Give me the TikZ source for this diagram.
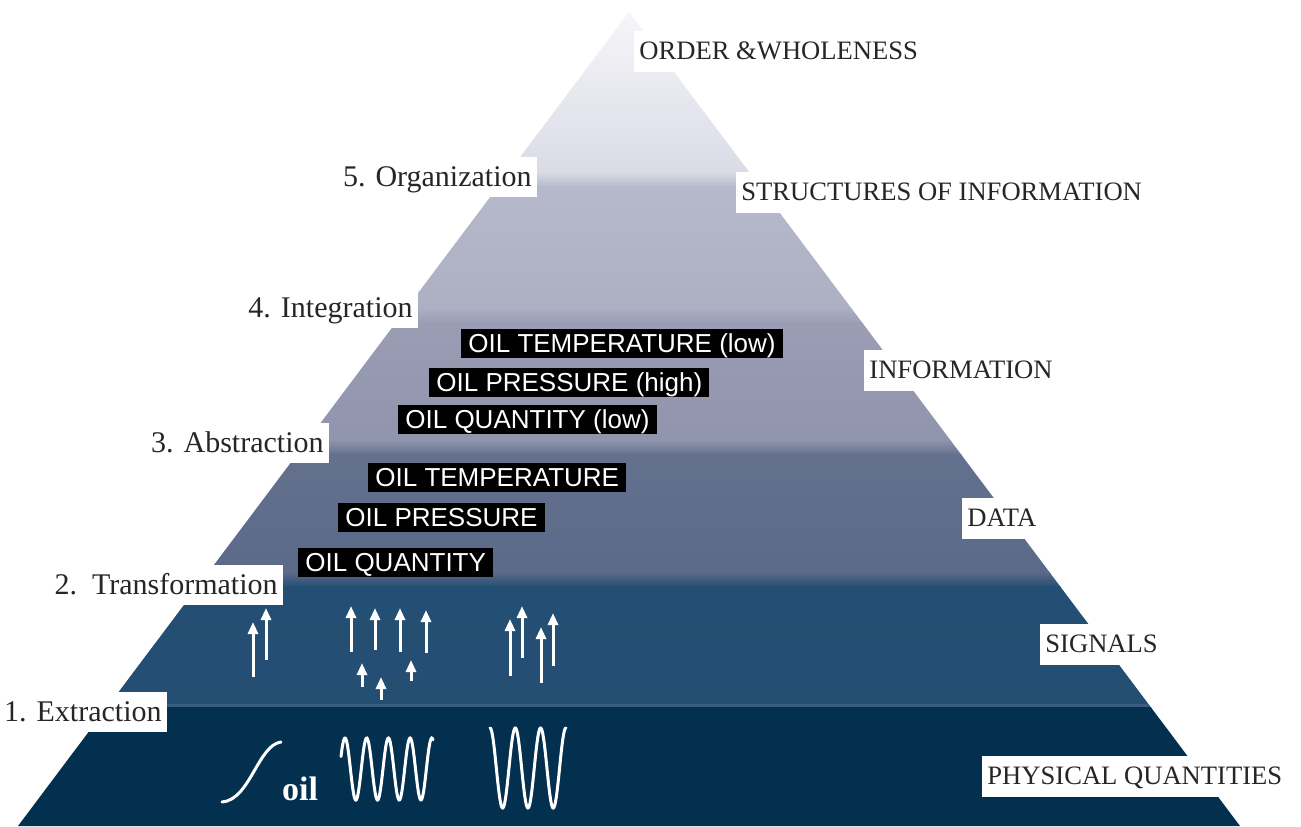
\documentclass[tikz,border=0pt]{standalone}
\usepackage{fontspec}
\setmainfont{Liberation Serif}
\setsansfont{Liberation Sans}
\usetikzlibrary{arrows.meta,positioning}

\definecolor{pyrA}{HTML}{F8F8FA}
\definecolor{pyrB}{HTML}{DADBE6}
\definecolor{pyrC}{HTML}{B6B9CB}
\definecolor{pyrD}{HTML}{ADB0C3}
\definecolor{pyrE}{HTML}{9A9DB4}
\definecolor{pyrF}{HTML}{9094AC}
\definecolor{pyrG}{HTML}{63718F}
\definecolor{pyrH}{HTML}{5C6A89}
\definecolor{pyrI}{HTML}{244F74}
\definecolor{pyrJ}{HTML}{244E72}
\definecolor{pyrL}{HTML}{3B5C81}
\definecolor{pyrK}{HTML}{03304F}

\begin{document}
\begin{tikzpicture}[x=0.5pt, y=-0.5pt,
    stage/.style = {fill=white, inner xsep=2.5pt, inner ysep=0pt,
                    minimum height=20pt, text height=9.9pt, text depth=0pt,
                    text=black!85, font=\fontsize{15}{15}\selectfont},
    layer/.style = {fill=white, inner xsep=2.5pt, inner ysep=0pt,
                    minimum height=20.5pt, text height=8.8pt, text depth=0pt,
                    text=black!85, font=\fontsize{13.3}{13.3}\selectfont},
    datum/.style = {fill=black, text=white, inner xsep=3.5pt, inner ysep=0pt,
                    minimum height=14.5pt, text height=9.3pt, text depth=0pt,
                    font=\sffamily\fontsize{13}{13}\selectfont},
    sig/.style = {white, line width=1.5pt, -{Triangle[length=6pt,width=5pt]}},
    wave/.style = {white, line width=1.5pt, line cap=round}
    ]
\useasboundingbox (0,0) rectangle (1301,826);
\coordinate (apex) at (629,12);
\coordinate (baseL) at (18,826);
\coordinate (baseR) at (1240,826);

% pyramid bands
\begin{scope}
\clip (apex) -- (baseL) -- (baseR) -- cycle;
\foreach \ya/\yb/\ca/\cb in {0/173/pyrA/pyrB, 172/187/pyrB/pyrC, 186/309/pyrC/pyrD,
        308/323/pyrD/pyrE, 322/441/pyrE/pyrF, 440/455/pyrF/pyrG, 454/573/pyrG/pyrH,
        572/587/pyrH/pyrI, 586/705/pyrI/pyrJ, 704/708/pyrL/pyrL, 707/826/pyrK/pyrK}
    \shade[top color=\ca, bottom color=\cb] (0,\ya) rectangle (1301,\yb);
\end{scope}

% signals
\foreach \x/\ya/\yb in {253/677/622, 266/660/608, 351/652/606, 375/650/608,
        400/652/608, 426/653/610, 362/687/663, 381/700/677, 411/681/660,
        510/676/619, 522/658/606, 541/683/627, 553/666/613}
    \draw[sig] (\x,\ya) -- (\x,\yb);

% physical quantities
\draw[wave] (222,802) .. controls (250,800) and (258,745) .. (281,742);
\node (oil) [anchor=base west, text=white, font=\bfseries\fontsize{17}{17}\selectfont]
    at (275,800) {oil};
\draw[wave] plot[domain=341:433, samples=150] (\x, {769-31*cos((\x-345)/21.7*360)});
\draw[wave] plot[domain=490:566, samples=150] (\x, {768-40*cos((\x-490)/25.3*360)});

% data and information
\node (tempLow)  [datum, anchor=west] at (461,343) {OIL TEMPERATURE (low)};
\node (pressHigh)[datum, anchor=west] at (429,382) {OIL PRESSURE (high)};
\node (quantLow) [datum, anchor=west] at (398,419) {OIL QUANTITY (low)};
\node (temp)     [datum, anchor=west] at (368,477) {OIL TEMPERATURE};
\node (press)    [datum, anchor=west] at (338,517) {OIL PRESSURE};
\node (quant)    [datum, anchor=west] at (298,562) {OIL QUANTITY};

% steps
\node (organize)  [stage, anchor=east] at (537,177) {5. Organization};
\node (integrate) [stage, anchor=east] at (418,308) {4. Integration};
\node (abstract)  [stage, anchor=east] at (329,443) {3. Abstraction};
\node (transform) [stage, anchor=east] at (283,585) {2.\ \ Transformation};
\node (extract)   [stage, anchor=east] at (167,712) {1. Extraction};

% levels
\node (order)     [layer, anchor=west] at (634,51)  {ORDER \&WHOLENESS};
\node (structure) [layer, anchor=west] at (736,192) {STRUCTURES OF INFORMATION};
\node (inform)    [layer, anchor=west] at (864,370) {INFORMATION};
\node (data)      [layer, anchor=west] at (962,518) {DATA};
\node (signals)   [layer, anchor=west] at (1040,644) {SIGNALS};
\node (physical)  [layer, anchor=west] at (982,776) {PHYSICAL QUANTITIES};
\end{tikzpicture}
\end{document}
